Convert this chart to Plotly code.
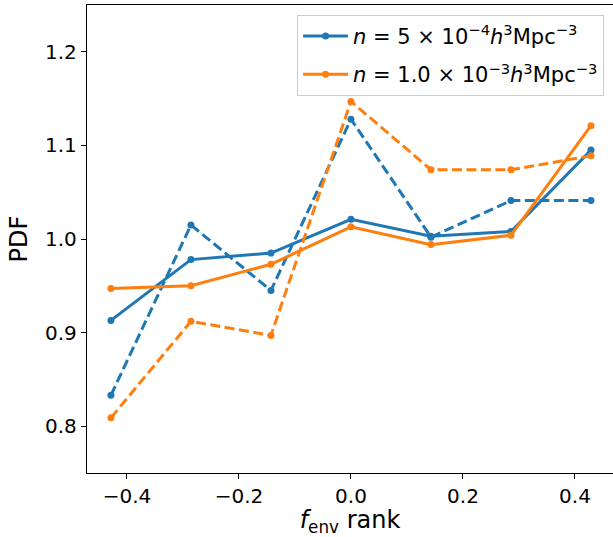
import plotly.graph_objects as go

x_rank = [-3/7, -2/7, -1/7, 0.0, 1/7, 2/7, 3/7]

blue_solid = [0.913, 0.978, 0.985, 1.021, 1.003, 1.008, 1.095]
blue_dashed = [0.833, 1.015, 0.945, 1.128, 1.002, 1.041, 1.041]
orange_solid = [0.947, 0.950, 0.973, 1.013, 0.994, 1.004, 1.121]
orange_dashed = [0.809, 0.912, 0.897, 1.147, 1.074, 1.074, 1.089]

label_blue = "<i>n</i> = 5 × 10<sup>−4</sup><i>h</i><sup>3</sup>Mpc<sup>−3</sup>"
label_orange = "<i>n</i> = 1.0 × 10<sup>−3</sup><i>h</i><sup>3</sup>Mpc<sup>−3</sup>"

BLUE = "#1f77b4"
ORANGE = "#ff7f0e"
LW = 3
MS = 7
DASH = "10px,4.5px"

fig = go.Figure()
fig.add_trace(go.Scatter(x=x_rank, y=blue_solid, mode="lines+markers", name=label_blue,
                         legendgroup="a",
                         line=dict(color=BLUE, width=LW), marker=dict(color=BLUE, size=MS)))
fig.add_trace(go.Scatter(x=x_rank, y=blue_dashed, mode="lines+markers", showlegend=False,
                         line=dict(color=BLUE, width=LW, dash=DASH), marker=dict(color=BLUE, size=MS)))
fig.add_trace(go.Scatter(x=x_rank, y=orange_solid, mode="lines+markers", name=label_orange,
                         legendgroup="b",
                         line=dict(color=ORANGE, width=LW), marker=dict(color=ORANGE, size=MS)))
fig.add_trace(go.Scatter(x=x_rank, y=orange_dashed, mode="lines+markers", showlegend=False,
                         line=dict(color=ORANGE, width=LW, dash=DASH), marker=dict(color=ORANGE, size=MS)))

fig.update_layout(
    width=613, height=537,
    margin=dict(l=87, r=0, t=5, b=64),
    paper_bgcolor="white", plot_bgcolor="white",
    font=dict(family="DejaVu Sans", size=20, color="black"),
    legend=dict(x=0.983, xanchor="right", y=0.979, yanchor="top",
                bgcolor="rgba(255,255,255,0.8)", bordercolor="#cccccc", borderwidth=1,
                font=dict(size=21), traceorder="grouped", tracegroupgap=8,
                itemwidth=45),
    xaxis=dict(range=[-0.4713, 0.4679], tickvals=[-0.4, -0.2, 0.0, 0.2, 0.4], tickformat=".1f",
               showline=True, linecolor="black", linewidth=1.3, mirror=True,
               ticks="outside", ticklen=5, tickwidth=1.1, tickcolor="black",
               showgrid=False, zeroline=False,
               title=dict(text="<i>f</i><sub>env</sub> rank", standoff=8)),
    yaxis=dict(range=[0.75, 1.25], tickvals=[0.8, 0.9, 1.0, 1.1, 1.2], tickformat=".1f",
               showline=True, linecolor="black", linewidth=1.3, mirror=False,
               ticks="outside", ticklen=5, tickwidth=1.1, tickcolor="black",
               showgrid=False, zeroline=False,
               title=dict(text="PDF", standoff=10)),
)

fig.write_html("out.html")
